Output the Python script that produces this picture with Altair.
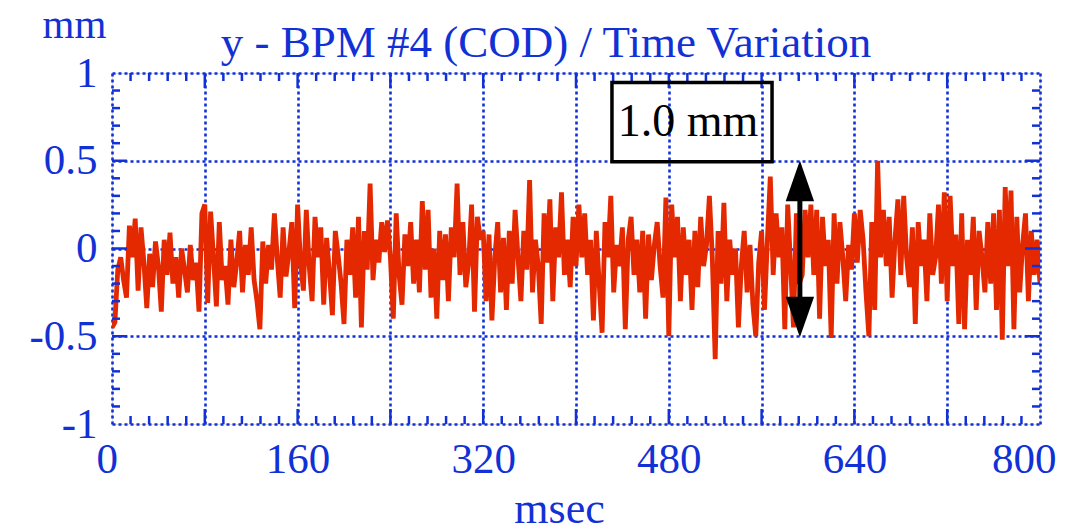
import altair as alt
import pandas as pd
import numpy as np

# ---- data (time step 2.5 ms, values in mm) ----
t_step = 2.5
cod_mm = [
    -0.45, -0.42, -0.12, -0.05, -0.18, -0.28, 0.13, -0.05, 0.17, -0.24, 0.12, -0.08, -0.34, -0.03, -0.22, 0.04,
    -0.10, -0.36, 0.05, -0.15, 0.09, -0.20, -0.05, -0.28, 0.00, -0.12, -0.25, 0.02, -0.18, -0.08, -0.36, 0.20,
    0.25, -0.31, 0.21, -0.05, -0.33, 0.15, -0.18, -0.10, -0.32, 0.05, -0.22, -0.08, 0.10, -0.25, 0.02, -0.15,
    0.12, -0.18, -0.30, -0.46, 0.04, -0.20, 0.02, -0.12, 0.20, -0.06, -0.28, 0.12, -0.16, -0.02, 0.15, -0.34,
    0.25, -0.08, -0.24, 0.22, -0.10, -0.30, 0.18, -0.05, 0.12, -0.32, 0.06, -0.14, -0.38, 0.10, -0.04, -0.20,
    -0.43, 0.05, -0.15, 0.12, -0.28, 0.18, -0.45, 0.10, -0.12, 0.37, -0.18, 0.05, -0.08, 0.15, -0.02, 0.16,
    -0.05, -0.40, 0.20, -0.15, -0.32, 0.08, -0.10, 0.15, -0.20, 0.05, -0.25, 0.27, -0.12, 0.22, -0.28, 0.00,
    -0.40, 0.10, -0.18, 0.08, -0.30, 0.12, -0.05, 0.37, -0.15, 0.15, -0.22, -0.08, 0.25, -0.36, 0.18, 0.05,
    0.10, -0.30, 0.08, -0.41, -0.05, 0.15, -0.25, 0.06, -0.35, 0.10, -0.20, 0.22, -0.05, -0.30, 0.10, -0.12,
    0.39, -0.25, 0.05, -0.10, -0.43, 0.20, -0.08, 0.28, -0.30, 0.12, -0.05, 0.32, -0.15, 0.05, -0.22, 0.18,
    -0.10, 0.25, -0.05, 0.20, -0.15, 0.05, -0.41, 0.10, -0.20, -0.48, 0.15, -0.05, 0.30, -0.25, 0.02, -0.10,
    0.12, -0.46, 0.05, 0.18, -0.15, 0.05, -0.25, 0.10, -0.40, 0.08, -0.18, 0.02, 0.15, -0.10, -0.28, 0.29,
    -0.50, 0.25, -0.05, 0.18, -0.30, 0.12, -0.15, 0.05, -0.35, 0.10, -0.22, 0.18, -0.10, 0.02, 0.30, -0.05,
    -0.63, 0.10, -0.20, 0.26, -0.30, 0.05, -0.15, 0.00, -0.45, -0.10, 0.10, -0.25, 0.02, -0.32, -0.50, -0.08,
    0.10, -0.35, 0.05, 0.41, -0.15, 0.20, -0.05, 0.12, -0.46, 0.25, -0.10, -0.45, 0.20, -0.20, -0.15, 0.22,
    -0.05, 0.25, -0.15, 0.22, -0.40, 0.18, -0.10, 0.05, -0.51, 0.20, -0.20, 0.15, -0.05, -0.30, 0.02, -0.12,
    0.20, -0.08, 0.22, 0.05, -0.25, -0.50, 0.15, -0.35, 0.50, -0.05, 0.22, -0.10, 0.18, -0.28, 0.05, 0.28,
    -0.15, 0.30, -0.05, -0.22, 0.12, -0.43, 0.15, -0.10, 0.05, -0.30, 0.20, -0.15, -0.05, 0.25, -0.20, 0.32,
    -0.30, 0.30, -0.10, 0.08, -0.43, 0.20, -0.46, 0.05, -0.15, 0.18, -0.35, 0.10, -0.05, -0.25, 0.15, -0.20,
    0.20, -0.35, 0.22, -0.52, 0.35, -0.10, 0.33, -0.46, 0.18, -0.25, 0.02, 0.20, -0.30, 0.10, -0.15, 0.05,
    -0.20,
]
t_ms = [i * t_step for i in range(len(cod_mm))]

x_grid_values = [0, 80, 160, 240, 320, 400, 480, 560, 640, 720, 800]
y_grid_values = [-1, -0.5, 0, 0.5, 1]
x_minor_ticks = [v for v in range(16, 800, 16) if v % 80 != 0]
x_major_ticks = [80, 160, 240, 320, 400, 480, 560, 640, 720]
y_minor_ticks = [round(v, 1) for v in np.arange(-0.9, 0.95, 0.1) if abs(round(v * 10)) % 5 != 0]
y_major_ticks = [-0.5, 0, 0.5]

# annotation: box with "1.0 mm" and a double arrow spanning -0.5 .. 0.5
box_t = [431]; box_t2 = [569]; box_v = [0.946]; box_v2 = [0.494]
box_label = ["1.0 mm"]
arrow_t = [593]; arrow_top = [0.5]; arrow_bottom = [-0.505]

TITLE = "y - BPM #4 (COD) / Time Variation"
BLUE = "#1131d6"
RED = "#e42800"
FONT = "Liberation Serif"
W, H = 928, 351

xs = alt.Scale(domain=[0, 800], nice=False, zero=False)
ys = alt.Scale(domain=[-1, 1], nice=False, zero=False)

df = pd.DataFrame({"t": t_ms, "v": cod_mm})

x_axis = alt.Axis(
    values=x_grid_values,
    labelExpr="datum.value % 160 == 0 ? '' + datum.value : ''",
    labelFont=FONT, labelFontSize=43, labelColor=BLUE, labelPadding=14,
    labelFlush=True, labelFlushOffset=16, ticks=False, tickSize=0, domain=False,
    grid=True, gridColor=BLUE, gridDash=[3, 3], gridWidth=2.6, gridOpacity=1,
    title="msec", titleFont=FONT, titleFontSize=44, titleColor=BLUE,
    titleFontWeight="normal", titleX=447, titleY=98,
    titleAlign="center", titleBaseline="alphabetic",
)
y_axis = alt.Axis(
    values=y_grid_values,
    labelExpr="'' + datum.value",
    labelFont=FONT, labelFontSize=43, labelColor=BLUE, labelPadding=15,
    labelFlush=False, ticks=False, tickSize=0, domain=False,
    grid=True, gridColor=BLUE, gridDash=[3, 3], gridWidth=2.6, gridOpacity=1,
    title="mm", titleFont=FONT, titleFontSize=41, titleColor=BLUE,
    titleFontWeight="normal", titleAngle=0, titleX=-38, titleY=-36,
    titleAlign="center", titleBaseline="alphabetic",
)

line = alt.Chart(df).mark_line(color=RED, strokeWidth=4.8, clip=True).encode(
    x=alt.X("t:Q", scale=xs, axis=x_axis),
    y=alt.Y("v:Q", scale=ys, axis=y_axis),
)

def xticks(vals, length):
    d = pd.DataFrame({"t": vals})
    bottom = alt.Chart(d).mark_rule(color=BLUE, strokeWidth=2.5).encode(
        x=alt.X("t:Q", scale=xs), y=alt.value(H), y2=alt.value(H - length))
    top = alt.Chart(d).mark_rule(color=BLUE, strokeWidth=2.5).encode(
        x=alt.X("t:Q", scale=xs), y=alt.value(0), y2=alt.value(length))
    return [bottom, top]

def yticks(vals, length):
    d = pd.DataFrame({"v": vals})
    left = alt.Chart(d).mark_rule(color=BLUE, strokeWidth=2.5).encode(
        y=alt.Y("v:Q", scale=ys), x=alt.value(0), x2=alt.value(length))
    right = alt.Chart(d).mark_rule(color=BLUE, strokeWidth=2.5).encode(
        y=alt.Y("v:Q", scale=ys), x=alt.value(W), x2=alt.value(W - length))
    return [left, right]

tick_layers = (xticks(x_minor_ticks, 8) + xticks(x_major_ticks, 15)
               + yticks(y_minor_ticks, 8) + yticks(y_major_ticks, 15))

box_df = pd.DataFrame({"t": box_t, "t2": box_t2, "v": box_v, "v2": box_v2})
box = alt.Chart(box_df).mark_rect(fill=None, stroke="black", strokeWidth=3.5).encode(
    x=alt.X("t:Q", scale=xs), x2="t2:Q", y=alt.Y("v:Q", scale=ys), y2="v2:Q")

lbl_df = pd.DataFrame({"t": [(box_t[0] + box_t2[0]) / 2], "v": [(box_v[0] + box_v2[0]) / 2],
                       "label": box_label})
lbl = alt.Chart(lbl_df).mark_text(font=FONT, fontSize=46, color="black",
                                  baseline="middle", align="center", dx=-4).encode(
    x=alt.X("t:Q", scale=xs), y=alt.Y("v:Q", scale=ys), text="label:N")

shaft_df = pd.DataFrame({"t": arrow_t, "v": [arrow_top[0] - 0.15], "v2": [arrow_bottom[0] + 0.15]})
shaft = alt.Chart(shaft_df).mark_rule(color="black", strokeWidth=5).encode(
    x=alt.X("t:Q", scale=xs), y=alt.Y("v:Q", scale=ys), y2="v2:Q")

head_up_df = pd.DataFrame({"t": arrow_t, "v": [arrow_top[0] - 0.115]})
head_dn_df = pd.DataFrame({"t": arrow_t, "v": [arrow_bottom[0] + 0.115]})
head_up = alt.Chart(head_up_df).mark_point(
    shape="M0,-1L0.7,1L-0.7,1Z", size=1650, filled=True, color="black", opacity=1).encode(
    x=alt.X("t:Q", scale=xs), y=alt.Y("v:Q", scale=ys))
head_dn = alt.Chart(head_dn_df).mark_point(
    shape="M0,1L0.7,-1L-0.7,-1Z", size=1650, filled=True, color="black", opacity=1).encode(
    x=alt.X("t:Q", scale=xs), y=alt.Y("v:Q", scale=ys))

title = alt.Chart(pd.DataFrame({"label": [TITLE]})).mark_text(
    font=FONT, fontSize=45, color=BLUE, align="center", baseline="alphabetic").encode(
    x=alt.value(434), y=alt.value(-16), text="label:N")

chart = alt.layer(line, *tick_layers, box, lbl, shaft, head_up, head_dn, title).properties(
    width=W, height=H,
    autosize=alt.AutoSizeParams(type="none"),
    padding={"left": 112, "top": 73, "right": 30, "bottom": 107},
).configure_view(stroke=BLUE, strokeWidth=3).configure(background="white")

chart.save("out.html", embed_options={"renderer": "svg", "actions": False})
